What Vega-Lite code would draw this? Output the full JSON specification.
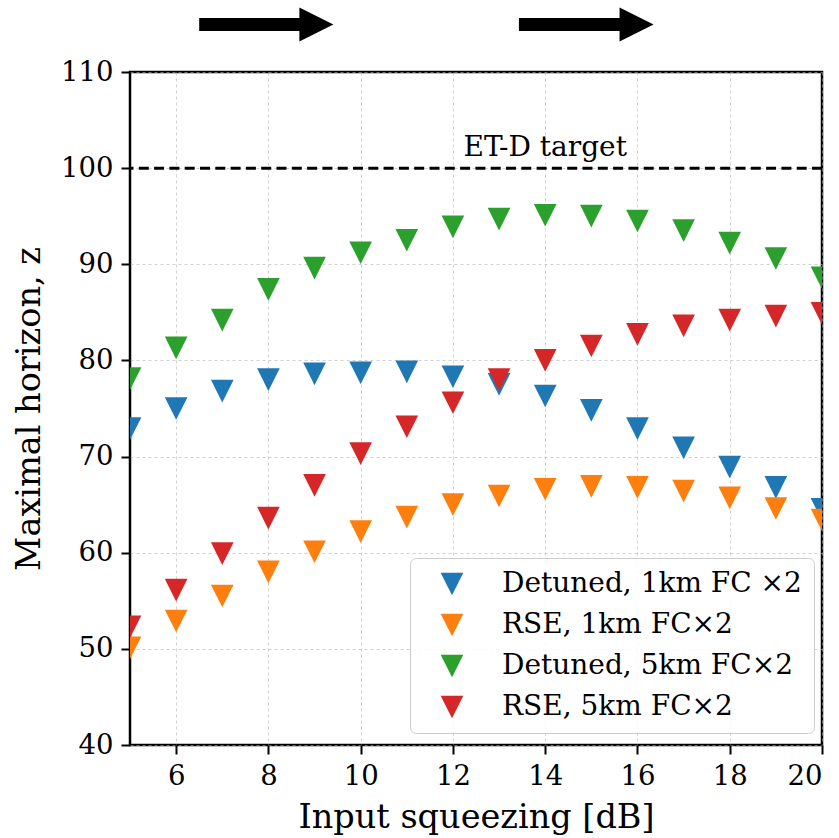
{
  "$schema": "https://vega.github.io/schema/vega-lite/v6.json",
  "autosize": "none",
  "width": 692,
  "height": 673,
  "padding": {"left": 130, "top": 72, "right": 17, "bottom": 93},
  "background": "white",
  "config": {
    "font": "DejaVu Serif",
    "view": {"stroke": "black", "strokeWidth": 2.5},
    "axis": {
      "domain": false,
      "grid": true,
      "gridColor": "#b0b0b0",
      "gridDash": [3, 3],
      "gridOpacity": 0.6,
      "gridWidth": 1,
      "ticks": true,
      "tickColor": "black",
      "tickWidth": 2,
      "tickSize": 9,
      "labelFont": "DejaVu Serif",
      "labelFontSize": 27.5,
      "labelColor": "black",
      "labelPadding": 8,
      "titleFont": "DejaVu Serif",
      "titleFontSize": 33.5,
      "titleFontWeight": "normal",
      "titleColor": "black"
    }
  },
  "layer": [
    {
      "data": {
        "values": [
          {"x": 5, "z": 72.9, "series": "Detuned, 1km FC ×2"},
          {"x": 6, "z": 75.0, "series": "Detuned, 1km FC ×2"},
          {"x": 7, "z": 76.8, "series": "Detuned, 1km FC ×2"},
          {"x": 8, "z": 78.0, "series": "Detuned, 1km FC ×2"},
          {"x": 9, "z": 78.6, "series": "Detuned, 1km FC ×2"},
          {"x": 10, "z": 78.7, "series": "Detuned, 1km FC ×2"},
          {"x": 11, "z": 78.8, "series": "Detuned, 1km FC ×2"},
          {"x": 12, "z": 78.3, "series": "Detuned, 1km FC ×2"},
          {"x": 13, "z": 77.5, "series": "Detuned, 1km FC ×2"},
          {"x": 14, "z": 76.3, "series": "Detuned, 1km FC ×2"},
          {"x": 15, "z": 74.8, "series": "Detuned, 1km FC ×2"},
          {"x": 16, "z": 72.9, "series": "Detuned, 1km FC ×2"},
          {"x": 17, "z": 70.9, "series": "Detuned, 1km FC ×2"},
          {"x": 18, "z": 68.9, "series": "Detuned, 1km FC ×2"},
          {"x": 19, "z": 66.8, "series": "Detuned, 1km FC ×2"},
          {"x": 20, "z": 64.5, "series": "Detuned, 1km FC ×2"},
          {"x": 5, "z": 50.1, "series": "RSE, 1km FC×2"},
          {"x": 6, "z": 52.9, "series": "RSE, 1km FC×2"},
          {"x": 7, "z": 55.5, "series": "RSE, 1km FC×2"},
          {"x": 8, "z": 58.0, "series": "RSE, 1km FC×2"},
          {"x": 9, "z": 60.1, "series": "RSE, 1km FC×2"},
          {"x": 10, "z": 62.2, "series": "RSE, 1km FC×2"},
          {"x": 11, "z": 63.7, "series": "RSE, 1km FC×2"},
          {"x": 12, "z": 65.0, "series": "RSE, 1km FC×2"},
          {"x": 13, "z": 65.9, "series": "RSE, 1km FC×2"},
          {"x": 14, "z": 66.6, "series": "RSE, 1km FC×2"},
          {"x": 15, "z": 66.9, "series": "RSE, 1km FC×2"},
          {"x": 16, "z": 66.8, "series": "RSE, 1km FC×2"},
          {"x": 17, "z": 66.4, "series": "RSE, 1km FC×2"},
          {"x": 18, "z": 65.7, "series": "RSE, 1km FC×2"},
          {"x": 19, "z": 64.6, "series": "RSE, 1km FC×2"},
          {"x": 20, "z": 63.4, "series": "RSE, 1km FC×2"},
          {"x": 5, "z": 78.1, "series": "Detuned, 5km FC×2"},
          {"x": 6, "z": 81.3, "series": "Detuned, 5km FC×2"},
          {"x": 7, "z": 84.2, "series": "Detuned, 5km FC×2"},
          {"x": 8, "z": 87.4, "series": "Detuned, 5km FC×2"},
          {"x": 9, "z": 89.6, "series": "Detuned, 5km FC×2"},
          {"x": 10, "z": 91.2, "series": "Detuned, 5km FC×2"},
          {"x": 11, "z": 92.5, "series": "Detuned, 5km FC×2"},
          {"x": 12, "z": 93.9, "series": "Detuned, 5km FC×2"},
          {"x": 13, "z": 94.7, "series": "Detuned, 5km FC×2"},
          {"x": 14, "z": 95.1, "series": "Detuned, 5km FC×2"},
          {"x": 15, "z": 95.0, "series": "Detuned, 5km FC×2"},
          {"x": 16, "z": 94.5, "series": "Detuned, 5km FC×2"},
          {"x": 17, "z": 93.5, "series": "Detuned, 5km FC×2"},
          {"x": 18, "z": 92.2, "series": "Detuned, 5km FC×2"},
          {"x": 19, "z": 90.6, "series": "Detuned, 5km FC×2"},
          {"x": 20, "z": 88.6, "series": "Detuned, 5km FC×2"},
          {"x": 5, "z": 52.3, "series": "RSE, 5km FC×2"},
          {"x": 6, "z": 56.1, "series": "RSE, 5km FC×2"},
          {"x": 7, "z": 59.9, "series": "RSE, 5km FC×2"},
          {"x": 8, "z": 63.6, "series": "RSE, 5km FC×2"},
          {"x": 9, "z": 67.0, "series": "RSE, 5km FC×2"},
          {"x": 10, "z": 70.3, "series": "RSE, 5km FC×2"},
          {"x": 11, "z": 73.1, "series": "RSE, 5km FC×2"},
          {"x": 12, "z": 75.6, "series": "RSE, 5km FC×2"},
          {"x": 13, "z": 78.0, "series": "RSE, 5km FC×2"},
          {"x": 14, "z": 80.0, "series": "RSE, 5km FC×2"},
          {"x": 15, "z": 81.5, "series": "RSE, 5km FC×2"},
          {"x": 16, "z": 82.7, "series": "RSE, 5km FC×2"},
          {"x": 17, "z": 83.6, "series": "RSE, 5km FC×2"},
          {"x": 18, "z": 84.2, "series": "RSE, 5km FC×2"},
          {"x": 19, "z": 84.6, "series": "RSE, 5km FC×2"},
          {"x": 20, "z": 84.9, "series": "RSE, 5km FC×2"}
        ]
      },
      "mark": {"type": "point", "filled": true, "opacity": 1, "shape": "M-1,-1L1,-1L0,1Z", "size": 515, "clip": true, "strokeWidth": 0},
      "encoding": {
        "x": {"field": "x", "type": "quantitative", "scale": {"domain": [5, 20], "nice": false, "zero": false},
          "axis": {"values": [6, 8, 10, 12, 14, 16, 18, 20], "title": "Input squeezing [dB]", "titlePadding": 12}},
        "y": {"field": "z", "type": "quantitative", "scale": {"domain": [40, 110], "nice": false, "zero": false},
          "axis": {"values": [40, 50, 60, 70, 80, 90, 100, 110], "title": "Maximal horizon, z", "titlePadding": 14}},
        "color": {"field": "series", "type": "nominal",
          "scale": {"domain": ["Detuned, 1km FC ×2", "RSE, 1km FC×2", "Detuned, 5km FC×2", "RSE, 5km FC×2"],
                    "range": ["#1f77b4", "#ff7f0e", "#2ca02c", "#d62728"]},
          "sort": null,
          "legend": {
            "title": null, "orient": "none", "legendX": 280, "legendY": 486,
            "symbolType": "M-1,-1L1,-1L0,1Z", "symbolSize": 515, "symbolOpacity": 1, "symbolStrokeWidth": 0,
            "symbolOffset": 16,
            "labelFont": "DejaVu Serif", "labelFontSize": 28, "labelColor": "black", "labelOffset": 36, "labelLimit": 400,
            "rowPadding": 13, "padding": 12,
            "fillColor": "rgba(255,255,255,0.85)", "strokeColor": "#cccccc", "cornerRadius": 6
          }}
      }
    },
    {
      "data": {"values": [{"z": 100}]},
      "mark": {"type": "rule", "color": "black", "strokeWidth": 3, "strokeDash": [10, 5.3]},
      "encoding": {
        "y": {"field": "z", "type": "quantitative", "scale": {"domain": [40, 110], "nice": false, "zero": false}}
      }
    },
    {
      "data": {"values": [{"x": 14, "z": 101.26, "label": "ET-D target"}]},
      "mark": {"type": "text", "font": "DejaVu Serif", "fontSize": 28, "color": "black", "align": "center", "baseline": "alphabetic"},
      "encoding": {
        "x": {"field": "x", "type": "quantitative", "scale": {"domain": [5, 20], "nice": false, "zero": false}},
        "y": {"field": "z", "type": "quantitative", "scale": {"domain": [40, 110], "nice": false, "zero": false}},
        "text": {"field": "label"}
      }
    },
    {
      "data": {"values": [{"x1": 6.5, "x2": 8.79, "z": 114.94}, {"x1": 13.43, "x2": 15.71, "z": 114.94}]},
      "mark": {"type": "rule", "color": "black", "strokeWidth": 13, "strokeCap": "butt", "clip": false},
      "encoding": {
        "x": {"field": "x1", "type": "quantitative", "scale": {"domain": [5, 20], "nice": false, "zero": false}},
        "x2": {"field": "x2"},
        "y": {"field": "z", "type": "quantitative", "scale": {"domain": [40, 110], "nice": false, "zero": false}}
      }
    },
    {
      "data": {"values": [{"x": 9.04, "z": 114.94}, {"x": 15.98, "z": 114.94}]},
      "mark": {"type": "point", "filled": true, "opacity": 1, "color": "black", "shape": "M-1,-1L1,0L-1,1Z", "size": 1156, "strokeWidth": 0, "clip": false},
      "encoding": {
        "x": {"field": "x", "type": "quantitative", "scale": {"domain": [5, 20], "nice": false, "zero": false}},
        "y": {"field": "z", "type": "quantitative", "scale": {"domain": [40, 110], "nice": false, "zero": false}}
      }
    }
  ]
}
